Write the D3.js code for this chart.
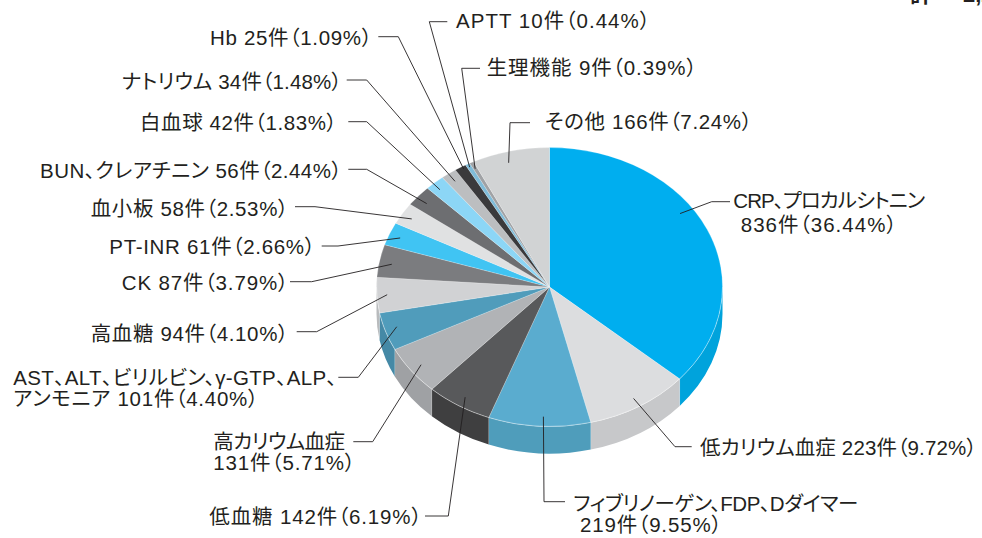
<!DOCTYPE html>
<html><head><meta charset="utf-8">
<script src="https://cdn.jsdelivr.net/npm/d3@7"></script>
<style>
html,body{margin:0;padding:0;background:#fff;}
svg{display:block;}
text{font-family:"Liberation Sans","Noto Sans CJK JP",sans-serif;fill:#231f20;font-feature-settings:"palt" 1;}
</style></head>
<body>
<svg id="chart" width="982" height="538"></svg>
<script>
// ---- data ----
const categories = ["CRP、プロカルシトニン","低カリウム血症","フィブリノーゲン、FDP、Dダイマー","低血糖","高カリウム血症",
  "AST、ALT、ビリルビン、γ-GTP、ALP、アンモニア","高血糖","CK","PT-INR","血小板","BUN、クレアチニン","白血球",
  "ナトリウム","Hb","APTT","生理機能","その他"];
const counts = [836,223,219,142,131,101,94,87,61,58,56,42,34,25,10,9,166];
const percents = ["36.44","9.72","9.55","6.19","5.71","4.40","4.10","3.79","2.66","2.53","2.44","1.83","1.48","1.09","0.44","0.39","7.24"];
const totalLabel = ["計", "2,294件"];

// ---- styles ----
const topColors = ["#00aeef","#dcdddf","#5aaccf","#58595b","#b1b3b6","#509cbb","#d1d2d4","#7b7c7f","#40c4f3",
  "#e0e1e2","#6d6e71","#8cd6f6","#bcbec0","#3a3a3c","#7fbcd9","#a0a2a5","#d1d3d4"];
const sideColors = ["#00a3dc","#c7c8ca","#4f9dbb","#3f3f40","#9fa1a4","#4589a6","#b9bbbd","#6d6e71","#36b0dc",
  "#cacbcc","#5f6063","#7cc3e0","#a9abad","#2e2e30","#6fa9c6","#8f9194","#bdbfc0"];

// label layout: left x of each line, baseline y, line widths, leader outer points, inner pointer (fraction within slice, radius factor)
const labelLayout = [
  {x:[733.3,740.7], y:207.5, dy:24, w:[191.7,156], mode:"two", pts:[[730,201.7],[711.7,201.7]], f:0.42, k:0.92},
  {x:[700], y:454.5, w:[276.7], mode:"one", pts:[[691.7,446.7],[675,446.7]], f:0.5, k:0.935},
  {x:[573.3,580], y:510.5, dy:21.5, w:[285,141.7], mode:"two", pts:[[565,501.7],[544,501.7]], f:0.465, k:0.93},
  {x:[209.3], y:523.5, w:[212.4], mode:"one", pts:[[425,516],[448.3,516]], f:0.5, k:0.928},
  {x:[213.3,213.3], y:448.5, dy:21.5, w:[131.7,141.7], mode:"two", pts:[[353.3,441.7],[372.7,441.7]], f:0.5, k:0.928},
  {x:[13.3,13.3], y:385, dy:21, w:[323.4,245], mode:"split", split:"ALP、", pts:[[338.3,377.3],[358.3,377.3]], f:0.55, k:0.928},
  {x:[90.7], y:340.5, w:[197.6], mode:"one", pts:[[296.7,331.7],[316.7,331.7]], f:0.5, k:0.94},
  {x:[121.7], y:290, w:[166.6], mode:"one", pts:[[290,281.7],[311.7,281.7]], f:0.45, k:0.926},
  {x:[109.3], y:254, w:[205.7], mode:"one", pts:[[321.7,246],[338,246]], f:0.47, k:0.932},
  {x:[90.7], y:216, w:[197.6], mode:"one", pts:[[295,206.7],[315,206.7]], f:0.47, k:0.934},
  {x:[40], y:178, w:[301.7], mode:"one", pts:[[348.3,169.3],[366.7,169.3]], f:0.43, k:0.928},
  {x:[140], y:130, w:[196.7], mode:"one", pts:[[348.3,121.7],[366.7,121.7]], f:0.4, k:0.942},
  {x:[121.7], y:88.5, w:[220], mode:"one", pts:[[346.7,80],[366.7,80]], f:0.47, k:0.934},
  {x:[210], y:44.5, w:[162], mode:"one", pts:[[378.3,36.7],[398.3,36.7]], f:0.65, k:0.98},
  {x:[456], y:27.5, w:[194], mode:"one", pts:[[447.3,21.7],[429.3,21.7]], f:0.5, k:0.975},
  {x:[486.7], y:75, w:[210], mode:"one", pts:[[480,68.3],[461.7,68.3]], f:0.4, k:0.95},
  {x:[545], y:128.5, w:[207], mode:"one", pts:[[530,122.7],[510,122.7]], f:0.43, k:0.921}
];

// ---- geometry ----
const cx = 549.5, cy = 287, rx = 173, ry = 139.5, depth = 27;
const svg = d3.select("#chart");

const pie = d3.pie().sort(null).value(d => d).startAngle(0).endAngle(2*Math.PI);
const arcs = pie(counts);

const px = (a, k=1, dy=0) => [cx + rx*k*Math.sin(a), cy - ry*k*Math.cos(a) + dy];

function topPath(a0, a1){
  const p0 = px(a0), p1 = px(a1);
  const large = (a1 - a0) > Math.PI ? 1 : 0;
  return `M${cx},${cy}L${p0[0]},${p0[1]}A${rx},${ry} 0 ${large} 1 ${p1[0]},${p1[1]}Z`;
}
function sidePath(a0, a1){
  const p0 = px(a0), p1 = px(a1), q1 = px(a1,1,depth), q0 = px(a0,1,depth);
  return `M${p0[0]},${p0[1]}A${rx},${ry} 0 0 1 ${p1[0]},${p1[1]}L${q1[0]},${q1[1]}A${rx},${ry} 0 0 0 ${q0[0]},${q0[1]}Z`;
}

// sides (front half only)
const gSide = svg.append("g");
arcs.forEach((d,i) => {
  const a0 = Math.max(d.startAngle, Math.PI/2), a1 = Math.min(d.endAngle, 3*Math.PI/2);
  if (a1 > a0) gSide.append("path").attr("d", sidePath(a0, a1)).attr("fill", sideColors[i]);
});
arcs.forEach((d,i) => {
  const a = d.startAngle;
  if (a > Math.PI/2 && a < 3*Math.PI/2) {
    const p = px(a), q = px(a,1,depth);
    gSide.append("line").attr("x1",p[0]).attr("y1",p[1]).attr("x2",q[0]).attr("y2",q[1])
      .attr("stroke","#ffffff").attr("stroke-opacity",0.25).attr("stroke-width",0.6);
  }
});

// top faces
const gTop = svg.append("g");
arcs.forEach((d,i) => {
  gTop.append("path").attr("d", topPath(d.startAngle, d.endAngle)).attr("fill", topColors[i])
    .attr("stroke","#ffffff").attr("stroke-opacity",0.35).attr("stroke-width",0.6).attr("stroke-linejoin","round");
});
{
  const p0 = px(Math.PI/2), p1 = px(3*Math.PI/2);
  gTop.append("path").attr("d", `M${p0[0]},${p0[1]}A${rx},${ry} 0 0 1 ${p1[0]},${p1[1]}`)
    .attr("fill","none").attr("stroke","#ffffff").attr("stroke-opacity",0.35).attr("stroke-width",0.8);
}

// labels and leaders
const gLab = svg.append("g");
arcs.forEach((d,i) => {
  const L = labelLayout[i];
  const a = d.startAngle + L.f*(d.endAngle - d.startAngle);
  const inner = px(a, L.k);
  gLab.append("path").attr("d", d3.line()(L.pts.concat([inner]))).attr("fill","none")
    .attr("stroke","#231f20").attr("stroke-width",0.9);

  const tail = `${counts[i]}件（${percents[i]}%）`;
  let lines;
  if (L.mode === "one") lines = [`${categories[i]} ${tail}`];
  else if (L.mode === "two") lines = [categories[i], tail];
  else {
    const cut = categories[i].indexOf(L.split) + L.split.length;
    lines = [categories[i].slice(0, cut), `${categories[i].slice(cut)} ${tail}`];
  }
  lines.forEach((s, j) => {
    gLab.append("text").attr("x", L.x[j]).attr("y", L.y + j*(L.dy||0))
      .attr("font-size", 20.5)
      .attr("textLength", L.w[j]).attr("lengthAdjust", "spacing")
      .text(s);
  });
});

// total label (cut off at the top edge)
svg.append("text").attr("x", 910).attr("y", 2).attr("font-size", 22).attr("font-weight", 700).text(totalLabel[0]);
svg.append("text").attr("x", 963).attr("y", 2).attr("font-size", 22).attr("font-weight", 700).text(totalLabel[1]);
</script>
</body></html>
